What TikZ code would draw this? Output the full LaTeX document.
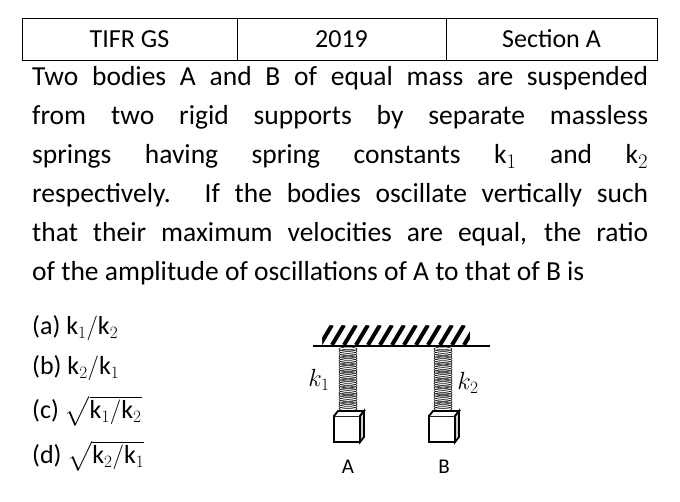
\documentclass[tikz,border=0pt]{standalone}
\usepackage{fontspec}
\usepackage{amsmath}
\setmainfont{Carlito}
\usetikzlibrary{patterns}
\tikzset{
  body/.style={draw, line width=1.8pt, fill=white},
  coil/.style={draw, line width=0.5pt},
  opt/.style={anchor=west, inner sep=0pt, font=\fontsize{26}{30}\selectfont},
}
\newcommand{\kk}[1]{\mathrm{k}_{#1}}
\begin{document}
\begin{tikzpicture}[x=1pt,y=-1pt]
  \useasboundingbox (0,0) rectangle (680,501);
  % header table
  \draw[line width=0.8pt] (22,18) rectangle (657,60);
  \draw[line width=0.8pt] (237,18) -- (237,60) (446,18) -- (446,60);
  \node[font=\fontsize{26}{30}\selectfont] (gs) at (129.5,39) {TIFR GS};
  \node[font=\fontsize{26}{30}\selectfont] (yr) at (341.5,39) {2019};
  \node[font=\fontsize{26}{30}\selectfont] (sec) at (551.5,39) {Section A};
  % question
  \node[anchor=north west, inner sep=0pt, text width=616pt, align=justify,
        font=\fontsize{27.5}{39}\selectfont] (q) at (32,66)
    {\hyphenpenalty=10000 Two bodies A and B of equal mass are suspended\linebreak
     from two rigid supports by separate massless\linebreak
     springs having spring constants $\kk1$\ and $\kk2$\linebreak
     respectively. If the bodies oscillate vertically such\linebreak
     that their maximum velocities are equal, the ratio\linebreak
     of the amplitude of oscillations of $\mathrm{A}$ to that of $\mathrm{B}$ is\par};
  % options
  \node[opt] (oa) at (32,328) {(a) $\kk1/\kk2$};
  \node[opt] (ob) at (32,368) {(b) $\kk2/\kk1$};
  \node[opt] (oc) at (32,411) {(c) $\sqrt{\kk1/\kk2}$};
  \node[opt] (od) at (32,456) {(d) $\sqrt{\kk2/\kk1}$};
  % support
  \foreach \i in {0,...,12}
    \draw[line width=4pt] (320+\i*12,345) -- (332+\i*12,325);
  \fill[white] (300,318) rectangle (322,346) (470,318) rectangle (495,346)
               (300,318) rectangle (495,325);
  \draw[line width=1.8pt] (313,346) -- (490,346);
  % springs
  \foreach \cx in {348,443} {
    \foreach \j in {0,...,26}
      \draw[coil] (\cx,349+\j*2.3) ellipse (9pt and 2pt);
  }
  % bodies
  \foreach \cx/\nm in {349/A,444/B} {
    \draw[body] (\cx-15,416) rectangle (\cx+11,442);
    \draw[body] (\cx-15,416) -- (\cx-11,411) -- (\cx+15,411) -- (\cx+11,416);
    \draw[body, fill=gray!40] (\cx+11,416) -- (\cx+15,411) -- (\cx+15,437) -- (\cx+11,442) -- cycle;
  }
  \node[font=\fontsize{21}{24}\selectfont] (la) at (348,467) {A};
  \node[font=\fontsize{21}{24}\selectfont] (lb) at (444,467) {B};
  \node[font=\fontsize{26}{28}\selectfont] (k1) at (319,380) {$k_1$};
  \node[font=\fontsize{26}{28}\selectfont] (k2) at (468,383) {$k_2$};
\end{tikzpicture}
\end{document}
